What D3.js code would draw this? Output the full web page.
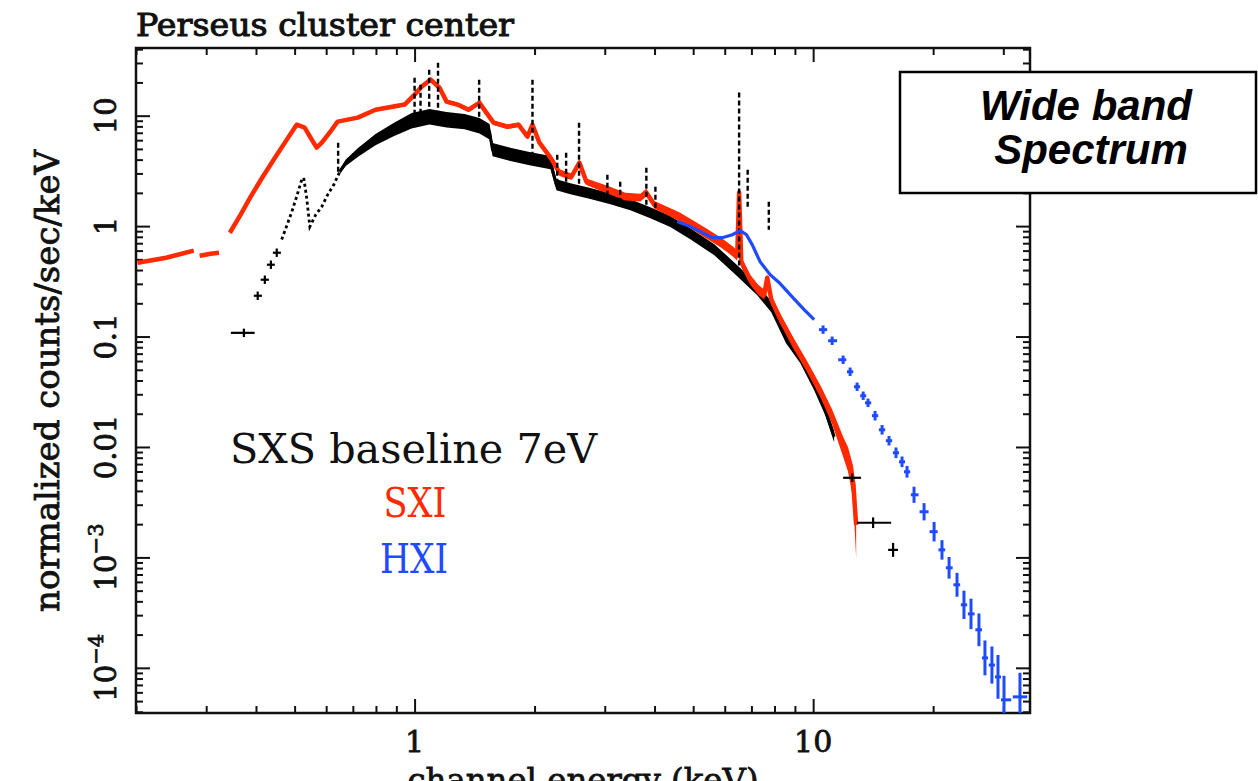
<!DOCTYPE html>
<html>
<head>
<meta charset="utf-8">
<script src="https://cdn.jsdelivr.net/npm/d3@7"></script>
<style>
  html, body { margin: 0; padding: 0; background: #fff; }
  svg { display: block; }
</style>
</head>
<body>
<svg id="chart" width="1258" height="781"></svg>
<script>
// ---- data (energy keV, counts/sec/keV) ----

// SXI (red): [E, value, half width of scatter in dex]; null = gap in the curve
const sxiData = [
  [0.202, 0.466, 0.01], [0.238, 0.517, 0.01], [0.279, 0.599, 0.01], null,
  [0.289, 0.539, 0.01], [0.308, 0.562, 0.01], [0.323, 0.574, 0.01], null,
  [0.344, 0.871, 0.012], [0.366, 1.27, 0.012], [0.388, 1.85, 0.012], [0.416, 2.80, 0.012],
  [0.448, 4.25, 0.012], [0.478, 6.07, 0.012], [0.506, 8.28, 0.012], [0.530, 7.78, 0.012],
  [0.552, 6.07, 0.012], [0.568, 5.13, 0.012], [0.585, 5.69, 0.012], [0.612, 7.01, 0.012],
  [0.641, 8.83, 0.012], [0.720, 9.60, 0.012], [0.798, 11.3, 0.012], [0.886, 12.1, 0.015],
  [0.944, 12.6, 0.015], [1.0, 15.5, 0.02], [1.041, 18.3, 0.02], [1.097, 21.2, 0.02],
  [1.155, 17.9, 0.02], [1.203, 13.4, 0.02], [1.282, 12.6, 0.02], [1.366, 11.3, 0.02],
  [1.455, 13.1, 0.02], [1.515, 10.6, 0.02], [1.578, 8.64, 0.02], [1.711, 7.94, 0.02],
  [1.823, 8.28, 0.02], [1.920, 6.46, 0.02], [1.976, 8.28, 0.02], [2.057, 5.69, 0.025],
  [2.193, 4.17, 0.025], [2.309, 3.05, 0.03], [2.475, 2.80, 0.03], [2.592, 3.75, 0.03],
  [2.698, 2.52, 0.03], [3.046, 2.14, 0.035], [3.379, 1.85, 0.035], [3.685, 1.81, 0.035],
  [3.815, 2.01, 0.035], [3.996, 1.56, 0.035], [4.616, 1.22, 0.04], [5.21, 0.927, 0.045],
  [5.88, 0.707, 0.045], [6.30, 0.586, 0.045], [6.45, 0.539, 0.045], [6.52, 2.01, 0.02],
  [6.60, 0.476, 0.045], [6.95, 0.327, 0.045], [7.28, 0.265, 0.045], [7.54, 0.239, 0.045],
  [7.67, 0.341, 0.03], [7.85, 0.216, 0.045], [8.22, 0.151, 0.045], [8.91, 0.0879, 0.05],
  [9.66, 0.0532, 0.05], [10.47, 0.0310, 0.055], [11.16, 0.0188, 0.065], [11.89, 0.01004, 0.09],
  [12.24, 0.00766, 0.11], [12.60, 0.00474, 0.15], [12.82, 0.00197, 0.3]
];

// SXS (black) sparse bins: [E, value, Elo, Ehi, dex error]
const sxsCross = [
  [0.373, 0.108, 0.346, 0.397, 0.02], [0.404, 0.234, 0.395, 0.414, 0.02],
  [0.421, 0.327, 0.411, 0.431, 0.02], [0.436, 0.447, 0.426, 0.446, 0.02],
  [0.451, 0.574, 0.441, 0.462, 0.02],
  [12.53, 0.00526, 11.89, 13.19, 0.02], [14.14, 0.00206, 12.89, 15.69, 0.03],
  [15.87, 0.00117, 15.42, 16.33, 0.045]
];

// SXS dotted stretch around the O edge
const sxsDotted = [
  [0.464, 0.756], [0.478, 1.01], [0.492, 1.35], [0.506, 1.85], [0.521, 2.63], [0.527, 2.74],
  [0.536, 1.81], [0.546, 0.988], [0.565, 1.27], [0.585, 1.50], [0.605, 1.92], [0.627, 2.37],
  [0.649, 3.11]
];

// SXS dense continuum: [E, value, dex scatter]
const sxsBand = [
  [0.649, 3.11, 0.02], [0.672, 3.75, 0.03], [0.720, 4.62, 0.04], [0.798, 6.07, 0.05],
  [0.886, 7.47, 0.06], [0.983, 9.01, 0.07], [1.090, 9.79, 0.07], [1.203, 9.20, 0.07],
  [1.335, 8.83, 0.07], [1.455, 8.11, 0.07], [1.542, 7.16, 0.07], [1.569, 4.92, 0.06],
  [1.711, 4.53, 0.06], [1.942, 4.08, 0.06], [2.193, 3.75, 0.06], [2.269, 2.37, 0.05],
  [2.460, 2.18, 0.05], [2.761, 1.97, 0.05], [3.099, 1.77, 0.05], [3.478, 1.56, 0.05],
  [3.904, 1.32, 0.05], [4.381, 1.10, 0.05], [4.918, 0.853, 0.05], [5.65, 0.611, 0.05],
  [6.41, 0.403, 0.05], [7.24, 0.265, 0.05], [7.85, 0.186, 0.05], [8.55, 0.0977, 0.05],
  [9.28, 0.0645, 0.05], [10.06, 0.0366, 0.05], [10.72, 0.0217, 0.05], [11.29, 0.0124, 0.05]
];

// SXS emission lines (dashed): [E, top, bottom]
const sxsLines = [
  [0.643, 5.69, 3.1], [1.0, 22.1, 9.0], [1.035, 19.1, 9.3], [1.088, 26.1, 9.7],
  [1.145, 30.2, 9.6], [1.452, 21.2, 8.1], [1.976, 21.2, 4.0], [2.28, 4.43, 2.4],
  [2.40, 4.61, 2.3], [2.586, 8.63, 2.1], [3.046, 2.92, 1.8], [3.28, 2.52, 1.7],
  [3.815, 3.38, 1.35], [4.02, 2.27, 1.3], [6.52, 16.2, 0.40], [6.85, 3.24, 1.5],
  [7.74, 1.66, 0.927]
];

// HXI (blue) dense part
const hxiLine = [
  [4.56, 1.10], [4.92, 0.99], [5.21, 0.89], [5.58, 0.785], [5.91, 0.785], [6.27, 0.836],
  [6.56, 0.91], [6.80, 0.836], [7.03, 0.68], [7.36, 0.476], [7.80, 0.363], [8.22, 0.307],
  [8.86, 0.229], [9.49, 0.175], [10.06, 0.142]
];

// HXI binned points: [E, value, dex error]
const hxiPts = [
  [10.59, 0.1154, 0.02], [11.16, 0.0916, 0.02], [11.89, 0.0616, 0.02], [12.38, 0.0480, 0.02],
  [12.89, 0.0351, 0.02], [13.35, 0.0291, 0.02], [13.73, 0.0251, 0.02], [14.30, 0.0192, 0.025],
  [14.89, 0.0143, 0.025], [15.50, 0.0114, 0.025], [16.14, 0.00886, 0.03], [16.71, 0.00734, 0.03],
  [17.20, 0.00596, 0.035], [17.91, 0.00369, 0.055], [18.98, 0.00259, 0.06], [20.11, 0.00171, 0.07],
  [21.05, 0.00117, 0.07], [21.93, 0.000805, 0.08], [22.96, 0.000565, 0.09], [23.90, 0.000372, 0.11],
  [24.89, 0.000308, 0.12], [26.06, 0.000221, 0.13], [26.98, 0.000123, 0.14], [28.09, 0.000106, 0.15],
  [29.09, 0.0000828, 0.18], [30.12, 0.0000513, 0.2], [33.03, 0.0000546, 0.2]
];

// axes
const xTicks = [1, 10];
const xTickLabels = ['1', '10'];
const yTicks = [10, 1, 0.1, 0.01, 1e-3, 1e-4];
const yTickLabels = [['10'], ['1'], ['0.1'], ['0.01'], ['10', '\u22123'], ['10', '\u22124']];

const RED = '#ff2a00';
const BLUE = '#1f4bff';
const SERIF = '"DejaVu Serif", serif';

const svg = d3.select('#chart');
const pLeft = 136, pRight = 1030, pTop = 48, pBottom = 713;

const x = d3.scaleLog().domain([0.2, 35]).range([pLeft, pRight]);
const y = d3.scaleLog().domain([3.9e-5, 41]).range([pBottom, pTop]);

svg.append('defs').append('clipPath').attr('id', 'plot')
  .append('rect').attr('x', pLeft).attr('y', pTop)
  .attr('width', pRight - pLeft).attr('height', pBottom - pTop);

// ---- ticks (inward on all four sides) ----
const xMinor = x.ticks().filter(t => !xTicks.includes(t));
const yMinor = y.ticks().filter(t => !yTicks.some(m => Math.abs(m - t) / m < 1e-6));

const axes = svg.append('g');
const tickAxis = (axis, tx, ty, vals, size) => {
  axes.append('g').attr('transform', `translate(${tx},${ty})`)
    .call(axis.tickValues(vals).tickSize(size).tickFormat(''))
    .call(g => g.select('.domain').remove())
    .call(g => g.selectAll('line').attr('stroke', '#111').attr('stroke-width', 2));
};
tickAxis(d3.axisBottom(x), 0, pBottom, xMinor, -7);
tickAxis(d3.axisBottom(x), 0, pBottom, xTicks, -14);
tickAxis(d3.axisTop(x), 0, pTop, xMinor, -7);
tickAxis(d3.axisTop(x), 0, pTop, xTicks, -14);
tickAxis(d3.axisLeft(y), pLeft, 0, yMinor, -7);
tickAxis(d3.axisLeft(y), pLeft, 0, yTicks, -14);
tickAxis(d3.axisRight(y), pRight, 0, yMinor, -7);
tickAxis(d3.axisRight(y), pRight, 0, yTicks, -14);

svg.append('rect')
  .attr('x', pLeft).attr('y', pTop).attr('width', pRight - pLeft).attr('height', pBottom - pTop)
  .attr('fill', 'none').attr('stroke', '#111').attr('stroke-width', 2.5);

// ---- data ----
const plot = svg.append('g').attr('clip-path', 'url(#plot)');

const bandArea = d3.area()
  .defined(d => d)
  .x(d => x(d[0]))
  .y0(d => y(d[1] / Math.pow(10, d[2])))
  .y1(d => y(d[1] * Math.pow(10, d[2])));
const line = d3.line().defined(d => d).x(d => x(d[0])).y(d => y(d[1]));

// SXS continuum
plot.append('path').datum(sxsBand).attr('d', bandArea).attr('fill', '#000');
plot.append('path').datum(sxsBand).attr('d', line)
  .attr('fill', 'none').attr('stroke', '#000').attr('stroke-width', 3);
plot.append('path').datum(sxsDotted).attr('d', line)
  .attr('fill', 'none').attr('stroke', '#000').attr('stroke-width', 2.8)
  .attr('stroke-dasharray', '3,3');

// SXI
plot.append('path').datum(sxiData).attr('d', bandArea).attr('fill', RED);
plot.append('path').datum(sxiData).attr('d', line)
  .attr('fill', 'none').attr('stroke', RED).attr('stroke-width', 4.5)
  .attr('stroke-linejoin', 'round');

// SXS line peaks
plot.append('g').selectAll('line').data(sxsLines).join('line')
  .attr('x1', d => x(d[0])).attr('x2', d => x(d[0]))
  .attr('y1', d => y(d[1])).attr('y2', d => y(d[2]))
  .attr('stroke', '#000').attr('stroke-width', 2.4).attr('stroke-dasharray', '5,3');

// SXS sparse crosses
const sxsG = plot.append('g').attr('stroke', '#000').attr('stroke-width', 2.2);
sxsG.selectAll('.h').data(sxsCross).join('line').attr('class', 'h')
  .attr('x1', d => x(d[2])).attr('x2', d => x(d[3]))
  .attr('y1', d => y(d[1])).attr('y2', d => y(d[1]));
sxsG.selectAll('.v').data(sxsCross).join('line').attr('class', 'v')
  .attr('x1', d => x(d[0])).attr('x2', d => x(d[0]))
  .attr('y1', d => y(d[1] * Math.pow(10, d[4])) - 2)
  .attr('y2', d => y(d[1] / Math.pow(10, d[4])) + 2);

// HXI
plot.append('path').datum(hxiLine).attr('d', line)
  .attr('fill', 'none').attr('stroke', BLUE).attr('stroke-width', 3.2);

const hxiG = plot.append('g').attr('stroke', BLUE).attr('stroke-width', 3);
const px = hxiPts.map(d => x(d[0]));
const gapL = i => (i > 0 ? px[i] - px[i - 1] : px[i + 1] - px[i]);
const gapR = i => (i < px.length - 1 ? px[i + 1] - px[i] : px[i] - px[i - 1]);
const halfL = i => Math.max(3, 0.45 * gapL(i));
const halfR = i => Math.max(3, 0.45 * gapR(i));
hxiG.selectAll('.h').data(hxiPts).join('line').attr('class', 'h')
  .attr('x1', (d, i) => px[i] - halfL(i)).attr('x2', (d, i) => px[i] + halfR(i))
  .attr('y1', d => y(d[1])).attr('y2', d => y(d[1]));
hxiG.selectAll('.v').data(hxiPts).join('line').attr('class', 'v')
  .attr('x1', (d, i) => px[i]).attr('x2', (d, i) => px[i])
  .attr('y1', d => y(d[1] * Math.pow(10, d[2])) - 2)
  .attr('y2', d => y(d[1] / Math.pow(10, d[2])) + 2);

// ---- labels ----
svg.append('g').selectAll('text').data(xTicks).join('text')
  .attr('x', d => x(d)).attr('y', 752)
  .attr('text-anchor', 'middle')
  .attr('font-family', SERIF).attr('font-size', 30)
  .attr('fill', '#111').attr('stroke', '#111').attr('stroke-width', 0.8)
  .text((d, i) => xTickLabels[i]);

const yl = svg.append('g').selectAll('text').data(yTicks).join('text')
  .attr('transform', d => `translate(116,${y(d)}) rotate(-90)`)
  .attr('text-anchor', 'middle')
  .attr('font-family', SERIF).attr('font-size', 29)
  .attr('fill', '#111').attr('stroke', '#111').attr('stroke-width', 0.8);
yl.each(function (d, i) {
  const parts = yTickLabels[i];
  const t = d3.select(this);
  t.append('tspan').text(parts[0]);
  if (parts[1]) t.append('tspan').attr('dy', -13).attr('font-size', 21).text(parts[1]);
});

svg.append('text')
  .attr('x', pLeft).attr('y', 36)
  .attr('font-family', SERIF).attr('font-size', 31)
  .attr('textLength', 378).attr('lengthAdjust', 'spacingAndGlyphs')
  .attr('fill', '#111').attr('stroke', '#111').attr('stroke-width', 1)
  .text('Perseus cluster center');

svg.append('text')
  .attr('transform', 'translate(59,381) rotate(-90)')
  .attr('text-anchor', 'middle')
  .attr('font-family', SERIF).attr('font-size', 33)
  .attr('textLength', 462).attr('lengthAdjust', 'spacingAndGlyphs')
  .attr('fill', '#111').attr('stroke', '#111').attr('stroke-width', 0.8)
  .text('normalized counts/sec/keV');

svg.append('text')
  .attr('x', (pLeft + pRight) / 2).attr('y', 791)
  .attr('text-anchor', 'middle')
  .attr('font-family', SERIF).attr('font-size', 32)
  .attr('textLength', 351).attr('lengthAdjust', 'spacingAndGlyphs')
  .attr('fill', '#111').attr('stroke', '#111').attr('stroke-width', 0.8)
  .text('channel energy (keV)');

// legend
svg.append('text')
  .attr('x', 230).attr('y', 463)
  .attr('font-family', SERIF).attr('font-size', 41)
  .attr('textLength', 367).attr('lengthAdjust', 'spacingAndGlyphs')
  .attr('fill', '#111')
  .text('SXS baseline 7eV');
svg.append('text')
  .attr('x', 415).attr('y', 517).attr('text-anchor', 'middle')
  .attr('font-family', SERIF).attr('font-size', 41)
  .attr('textLength', 63).attr('lengthAdjust', 'spacingAndGlyphs')
  .attr('fill', RED)
  .text('SXI');
svg.append('text')
  .attr('x', 414).attr('y', 573).attr('text-anchor', 'middle')
  .attr('font-family', SERIF).attr('font-size', 41)
  .attr('textLength', 68).attr('lengthAdjust', 'spacingAndGlyphs')
  .attr('fill', BLUE)
  .text('HXI');

// annotation box
svg.append('rect')
  .attr('x', 900).attr('y', 72).attr('width', 356).attr('height', 121)
  .attr('fill', '#fff').attr('stroke', '#000').attr('stroke-width', 2.5);
const note = svg.append('text')
  .attr('text-anchor', 'middle')
  .attr('font-family', '"Liberation Sans", Arial, sans-serif')
  .attr('font-size', 42).attr('font-weight', 'bold').attr('font-style', 'italic')
  .attr('fill', '#000');
note.append('tspan').attr('x', 1086).attr('y', 120).text('Wide band');
note.append('tspan').attr('x', 1091).attr('y', 164).text('Spectrum');
</script>
</body>
</html>
